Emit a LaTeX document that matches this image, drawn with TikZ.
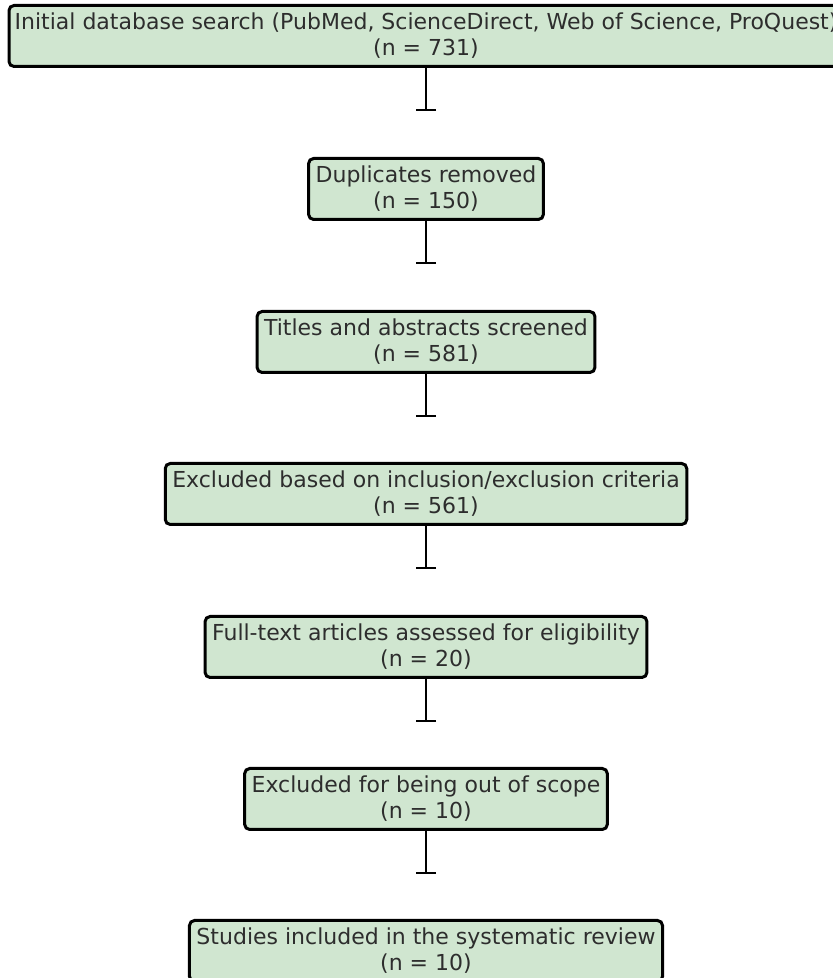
\documentclass[tikz,border=0pt]{standalone}
\usepackage{fontspec}
\setmainfont{DejaVu Sans}
\usetikzlibrary{arrows.meta}
\definecolor{boxfill}{RGB}{208,230,208}
\definecolor{txt}{RGB}{45,45,45}
\tikzset{
  flowbox/.style={draw=black, line width=3pt, fill=boxfill, rounded corners=5pt,
    align=center, text=txt, font=\fontsize{22pt}{26pt}\selectfont,
    minimum height=61pt, inner xsep=7pt, inner ysep=4pt},
  flowarrow/.style={line width=2.4pt, -{Bar[width=20pt, line width=2.4pt]}}
}
\begin{document}
\begin{tikzpicture}[x=1pt,y=1pt]
\useasboundingbox (0,0) rectangle (833,978);
\node[flowbox, minimum width=834pt, inner xsep=2pt] (b1) at (426,942) {Initial database search (PubMed, ScienceDirect, Web of Science, ProQuest)\\(n = 731)};
\node[flowbox, minimum width=234pt] (b2) at (426,789) {Duplicates removed\\(n = 150)};
\node[flowbox, minimum width=336pt] (b3) at (426,636) {Titles and abstracts screened\\(n = 581)};
\node[flowbox, minimum width=520pt] (b4) at (426,484) {Excluded based on inclusion/exclusion criteria\\(n = 561)};
\node[flowbox, minimum width=440pt] (b5) at (426,331) {Full-text articles assessed for eligibility\\(n = 20)};
\node[flowbox, minimum width=361pt] (b6) at (426,179) {Excluded for being out of scope\\(n = 10)};
\node[flowbox, minimum width=472pt] (b7) at (426,27) {Studies included in the systematic review\\(n = 10)};
\foreach \i in {1,...,6} {
  \coordinate (t\i) at ([yshift=-43pt]b\i.south);
  \draw[flowarrow] (b\i.south) -- (t\i);
}
\end{tikzpicture}
\end{document}
